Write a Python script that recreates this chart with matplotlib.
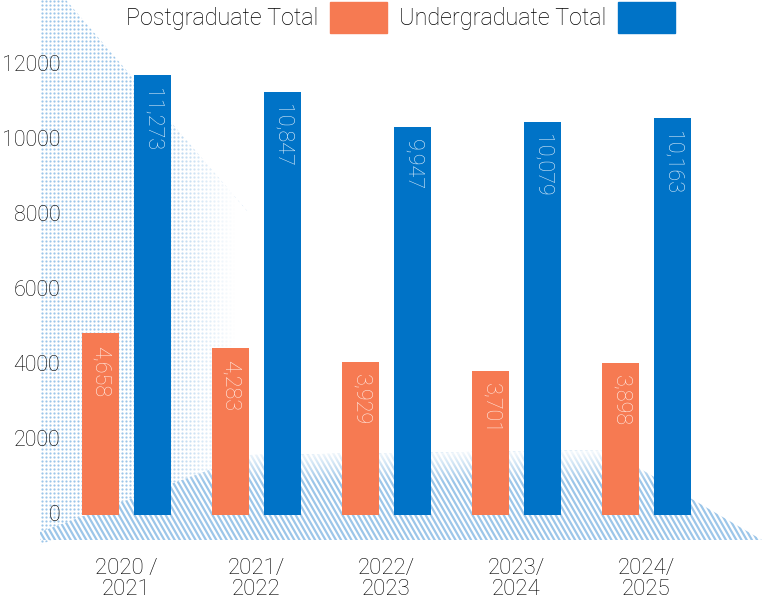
import matplotlib
matplotlib.use('Agg')
import matplotlib.pyplot as plt
import numpy as np
from matplotlib.patches import Polygon, Patch
from matplotlib.collections import LineCollection

years = ['2020 /\n2021', '2021/\n2022', '2022/\n2023', '2023/\n2024', '2024/\n2025']
postgrad = [4658, 4283, 3929, 3701, 3898]
undergrad = [11273, 10847, 9947, 10079, 10163]
yticks = [0, 2000, 4000, 6000, 8000, 10000, 12000]

orange = '#F67A52'
blue = '#0073C7'
dots = '#9CC6E9'
txt = '#000000'

plt.rcParams['font.family'] = ['Roboto', 'DejaVu Sans']
plt.rcParams['font.weight'] = 'light'

W, H = 763, 607
fig = plt.figure(figsize=(W / 100, H / 100), dpi=100)

# decorative wall + floor, drawn in pixel coords
bg = fig.add_axes([0, 0, 1, 1], zorder=0)
bg.set_xlim(0, W)
bg.set_ylim(H, 0)
bg.axis('off')

wall = Polygon([(40, 0), (66, 0), (248, 212), (248, 456), (40, 545)],
               closed=True, facecolor='none', edgecolor='none')
bg.add_patch(wall)
gx, gy = np.meshgrid(np.arange(42, 260, 4), np.arange(1, 546, 4))
sc = bg.scatter(gx.ravel(), gy.ravel(), s=2.6, color=dots, linewidths=0, zorder=2)
sc.set_clip_path(wall)
fade = np.ones((1, 300, 4))
fade[0, :, 3] = np.clip((np.linspace(30, 270, 300) - 150) / 85, 0, 1)
im = bg.imshow(fade, extent=[30, 270, 560, -10], aspect='auto', zorder=3)
im.set_clip_path(wall)

floor = Polygon([(40, 540), (40, 532), (250, 455), (608, 450), (762, 540)],
                closed=True, facecolor='white', edgecolor='none', zorder=4)
bg.add_patch(floor)
starts = np.arange(-80, 780, 5.2)
segs = [[(c, 440), (c + 60, 545)] for c in starts]
lc = LineCollection(segs, colors=dots, linewidths=1.6, zorder=5)
bg.add_collection(lc)
lc.set_clip_path(floor)
fade2 = np.ones((200, 1, 4))
fade2[:, 0, 3] = np.clip((482 - np.linspace(440, 545, 200)) / 34, 0, 1)
im2 = bg.imshow(fade2, extent=[30, 770, 545, 440], aspect='auto', zorder=6)
im2.set_clip_path(floor)
bg.set_xlim(0, W)
bg.set_ylim(H, 0)

# main bars
ax = fig.add_axes([40 / W, (H - 540) / H, (W - 40) / W, 540 / H], zorder=1)
ax.patch.set_visible(False)
x = np.arange(len(years))
bw = 37 / 130
off = 26 / 130
ax.bar(x - off, postgrad, bw, color=orange, zorder=2)
ax.bar(x + off, undergrad, bw, color=blue, zorder=2)
ax.set_xlim((40 - 126.5) / 130, (W - 126.5) / 130)
k = 0.03903
ax.set_ylim(-25 / k, 515 / k)

for xi, v in zip(x - off, postgrad):
    ax.annotate(f'{v:,}', (xi, v), xytext=(0, -9), textcoords='offset points',
                rotation=-90, ha='center', va='top', fontsize=15.5, color='#FFEAE2')
for xi, v in zip(x + off, undergrad):
    ax.annotate(f'{v:,}', (xi, v), xytext=(0, -9), textcoords='offset points',
                rotation=-90, ha='center', va='top', fontsize=15.5, color='#DCECF9')

ax.set_xticks(x)
ax.set_xticklabels(years, fontsize=16, color=txt, linespacing=1.0)
ax.tick_params(axis='x', length=0, pad=13)
ax.set_yticks([])
for s in ax.spines.values():
    s.set_visible(False)

# y labels sit on their own scale (as in the original artwork)
lab = ax.twinx()
lab.yaxis.tick_left()
lab.set_ylim(-27 / 0.0375, 513 / 0.0375)
lab.set_yticks(yticks)
lab.set_yticklabels([str(t) for t in yticks], fontsize=15.5, color=txt)
lab.tick_params(axis='y', length=0, pad=-14.5)
for s in lab.spines.values():
    s.set_visible(False)

handles = [Patch(color=orange), Patch(color=blue)]
fig.legend(handles, ['Postgraduate Total', 'Undergraduate Total'], ncol=2, markerfirst=False,
           loc='upper left', bbox_to_anchor=(126 / W, 1 - 2 / H), frameon=False, fontsize=16.8,
           labelcolor=txt, handlelength=2.45, handleheight=1.65, handletextpad=0.5,
           columnspacing=0.5, borderpad=0, borderaxespad=0)

fig.savefig('out.png', dpi=100)
